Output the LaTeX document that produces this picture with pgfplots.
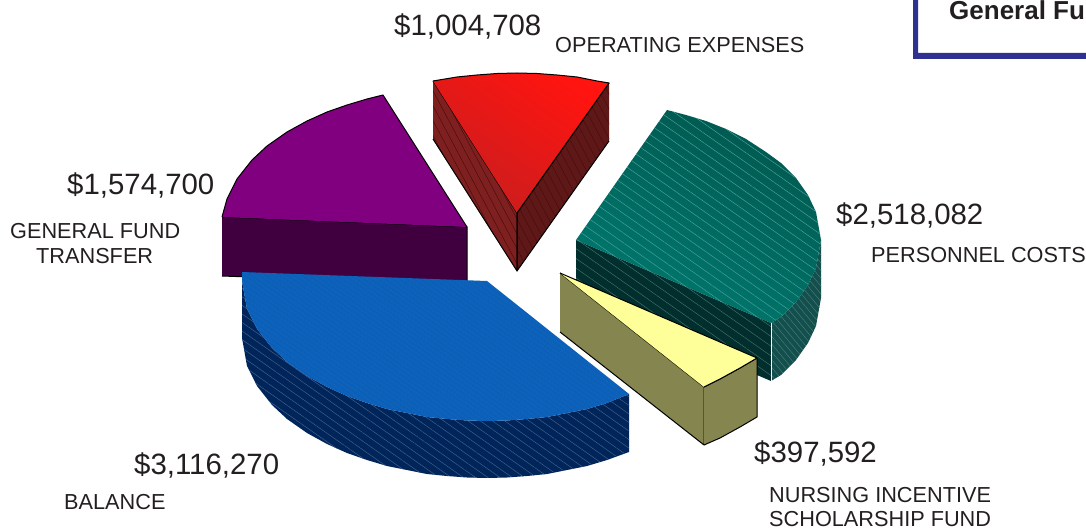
\documentclass[border=0pt]{standalone}
\usepackage{pgfplots}
\usepackage{pgfplotstable}
\usepackage{fontspec}
\setmainfont{Liberation Sans}
\usetikzlibrary{patterns.meta}
\pgfplotsset{compat=1.18}

\definecolor{ink}{HTML}{231F20}
\definecolor{boxblue}{HTML}{2E3192}
\definecolor{purpletop}{HTML}{800080}
\definecolor{purplewall}{HTML}{400040}
\definecolor{olive}{HTML}{85854F}
\definecolor{paleyellow}{HTML}{FFFF99}
\definecolor{redwall}{HTML}{7E2020}
\definecolor{redline}{HTML}{4A0A0A}
\definecolor{redhi}{HTML}{FF1410}
\definecolor{redlo}{HTML}{C81E1E}
\definecolor{tealhi}{HTML}{00584F}
\definecolor{teallo}{HTML}{007A70}
\definecolor{tealwall}{HTML}{002F2E}
\definecolor{tealside}{HTML}{134F4D}
\definecolor{bluetop}{HTML}{0A5FB8}
\definecolor{blueside}{HTML}{00255A}

% outlines in picture pixels
\pgfplotstableread{
x y
222 217
227 199
237 179
252 160
267 146
287 132
307 121
327 112
347 105
367 99
383 95
467 227
}\purpletop
\pgfplotstableread{
x y
222 217
467 227
467 285
222 276
}\purplewall
\pgfplotstableread{
x y
433 81
457 77
477 75
497 73.5
517 73
537 73.5
557 75
577 77
597 81
609 83
517 213
}\redtop
\pgfplotstableread{
x y
433 81
517 213
517 271
433 139
}\redleft
\pgfplotstableread{
x y
609 83
517 213
517 271
609 141
}\redright
\pgfplotstableread{
x y
667 110
686 115
706 121
726 129
746 139
766 152
781 163
796 178
808 195
816 212
821 240
816 268
808 285
796 302
781 317
771 323
576 240
}\tealtop
\pgfplotstableread{
x y
576 240
771 323
771 381
576 298
}\tealwall
\pgfplotstableread{
x y
771 323
781 317
796 302
808 285
816 268
821 240
821 298
816 326
808 343
796 360
781 375
771 381
}\tealside
\pgfplotstableread{
x y
242 272
242 281
247 309
257 329
272 348
287 362
307 376
327 387
347 396
367 403
387 409
407 413
427 417
447 419
467 420.5
487 421
507 420.5
527 419
547 417
567 413
587 409
607 403
629 394
487 281
}\bluetop
\pgfplotstableread{
x y
242 281
247 309
257 329
272 348
287 362
307 376
327 387
347 396
367 403
387 409
407 413
427 417
447 419
467 420.5
487 421
507 420.5
527 419
547 417
567 413
587 409
607 403
629 394
629 452
607 460
587 466
567 470
547 474
527 476
507 477.5
487 478
467 477.5
447 476
427 474
407 470
387 466
367 460
347 453
327 444
307 433
287 419
272 405
257 386
247 366
242 338
}\blueside
\pgfplotstableread{
x y
560 273
757 358
740 368
720 379
704 387
}\yellowtop
\pgfplotstableread{
x y
560 273
704 387
704 445
560 332
}\yellowleft
\pgfplotstableread{
x y
704 387
720 379
740 368
757 358
757 417
740 427
720 438
704 445
}\yellowfront

\newcommand{\biglabel}[3]{\node[anchor=base west,inner sep=0pt,text=ink,font=\fontsize{29.4}{33}\selectfont] at (axis cs:#1,#2) {#3};}
\newcommand{\smalllabel}[3]{\node[anchor=base west,inner sep=0pt,text=ink,font=\fontsize{21.7}{25}\selectfont] at (axis cs:#1,#2) {#3};}

\begin{document}
\begin{tikzpicture}
\useasboundingbox (0,0) rectangle (1086pt,529pt);
\begin{axis}[
  at={(0,0)}, anchor=south west,
  scale only axis, width=1086pt, height=529pt,
  xmin=0, xmax=1086, ymin=0, ymax=529, y dir=reverse,
  axis lines=none, clip=false,
  every axis plot/.append style={no markers, line join=round},
  edge/.style={draw=black, line width=1pt},
  hatch/.style n args={3}{draw=none, pattern={Lines[angle=#1,distance=#2,line width=0.45pt]}, pattern color=#3},
]
% title box corner
\addplot[fill=boxblue, draw=none] coordinates {(913,0) (918,0) (918,53) (1086,53) (1086,59) (913,59)};

% general fund transfer
\addplot[fill=purplewall, edge] table {\purplewall};
\addplot[fill=purpletop, edge] table {\purpletop};

% operating expenses
\addplot[fill=redwall, draw=none] table {\redleft};
\addplot[fill=redwall!75!black, draw=none] table {\redright};
\addplot[hatch={-62}{7pt}{redline}] table {\redleft};
\addplot[hatch={-62}{7pt}{redline}] table {\redright};
\addplot[edge] table {\redleft};
\addplot[edge] table {\redright};
\addplot[top color=redhi, bottom color=redlo, shading angle=-35, edge] table {\redtop};

% personnel costs
\addplot[fill=tealwall, draw=none] table {\tealwall};
\addplot[hatch={-35}{8pt}{white!30!tealwall}] table {\tealwall};
\addplot[fill=tealside, draw=none] table {\tealside};
\addplot[hatch={-50}{5pt}{white!25!tealside}] table {\tealside};
\addplot[top color=tealhi, bottom color=teallo, shading angle=-25, draw=none] table {\tealtop};
\addplot[hatch={-35}{8pt}{white!30!teallo}] table {\tealtop};
\addplot[white, line width=1pt] coordinates {(771,323) (771,381)};

% balance
\addplot[fill=blueside, draw=none] table {\blueside};
\addplot[hatch={-35}{7pt}{white!28!blueside}] table {\blueside};
\addplot[fill=bluetop, draw=none] table {\bluetop};
\addplot[hatch={-35}{4pt}{white!14!bluetop}] table {\bluetop};

% nursing incentive scholarship fund
\addplot[fill=olive, edge] table {\yellowleft};
\addplot[fill=olive, edge] table {\yellowfront};
\addplot[fill=paleyellow, edge] table {\yellowtop};

\biglabel{394}{36}{\$1,004,708}
\smalllabel{555}{53}{OPERATING EXPENSES}
\biglabel{67}{195}{\$1,574,700}
\smalllabel{10}{239}{GENERAL FUND}
\smalllabel{36}{264}{TRANSFER}
\biglabel{836}{225}{\$2,518,082}
\smalllabel{871}{262}{PERSONNEL COSTS}
\biglabel{754}{462}{\$397,592}
\smalllabel{769}{502}{NURSING INCENTIVE}
\smalllabel{769}{526.5}{SCHOLARSHIP FUND}
\biglabel{134}{474}{\$3,116,270}
\smalllabel{64}{509}{BALANCE}
\node[anchor=base west,inner sep=0pt,text=ink,font=\bfseries\fontsize{26}{30}\selectfont] at (axis cs:949,20) {General Fu};
\end{axis}
\end{tikzpicture}
\end{document}
